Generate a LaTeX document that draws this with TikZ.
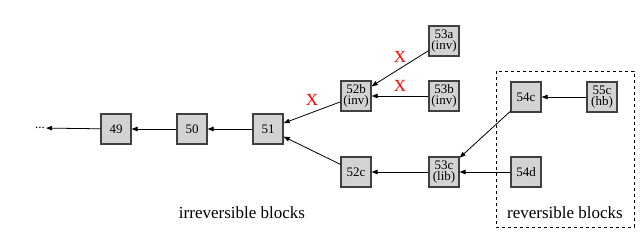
\documentclass[tikz,border=0pt]{standalone}
\usepackage{fontspec}
\setmainfont{Liberation Serif}
\usetikzlibrary{arrows.meta}
\definecolor{boxfill}{HTML}{D3D3D3}
\definecolor{boxline}{HTML}{404040}
\tikzset{
  blk/.style={draw=boxline, line width=1.3pt, fill=boxfill, minimum width=30pt, minimum height=30pt, inner sep=0pt, align=center, font=\fontsize{13}{11.5}\selectfont},
  conn/.style={line width=0.8pt, -{Triangle[length=6pt,width=4.5pt]}},
  xmark/.style={text=red, font=\fontsize{17}{17}\selectfont, inner sep=0pt},
  lbl/.style={font=\fontsize{17}{17}\selectfont, inner sep=0pt}
}
\begin{document}
\begin{tikzpicture}[x=1pt,y=-1pt]
\useasboundingbox (0,0) rectangle (643,243);
\draw[dashed, line width=0.9pt] (496,71) rectangle (634,227);
\node[font=\fontsize{13}{13}\selectfont, inner sep=1pt] (dots) at (40,128) {...};
\node[blk] (n49) at (116,129) {49};
\node[blk] (n50) at (192,129) {50};
\node[blk] (n51) at (268,129) {51};
\node[blk] (n52b) at (356,96) {52b\\(inv)};
\node[blk] (n52c) at (356,172) {52c};
\node[blk] (n53a) at (444,41) {53a\\(inv)};
\node[blk] (n53b) at (444,96) {53b\\(inv)};
\node[blk] (n53c) at (444,172) {53c\\(lib)};
\node[blk] (n54c) at (526,97) {54c};
\node[blk] (n55c) at (602,97) {55c\\(hb)};
\node[blk] (n54d) at (526,172) {54d};
\draw[conn] (n49) -- (dots);
\draw[conn] (n50) -- (n49);
\draw[conn] (n51) -- (n50);
\draw[conn] (n52b) -- (n51);
\draw[conn] (n52c) -- (n51);
\draw[conn] (n53a) -- (n52b);
\draw[conn] (n53b) -- (n52b);
\draw[conn] (n53c) -- (n52c);
\draw[conn] (n54c) -- (n53c);
\draw[conn] (n54d) -- (n53c);
\draw[conn] (n55c) -- (n54c);
\node[xmark] (x1) at (312,100) {X};
\node[xmark] (x2) at (400,57) {X};
\node[xmark] (x3) at (400,86) {X};
\node[lbl] (irr) at (242,213) {irreversible blocks};
\node[lbl] (rev) at (565,213) {reversible blocks};
\end{tikzpicture}
\end{document}
